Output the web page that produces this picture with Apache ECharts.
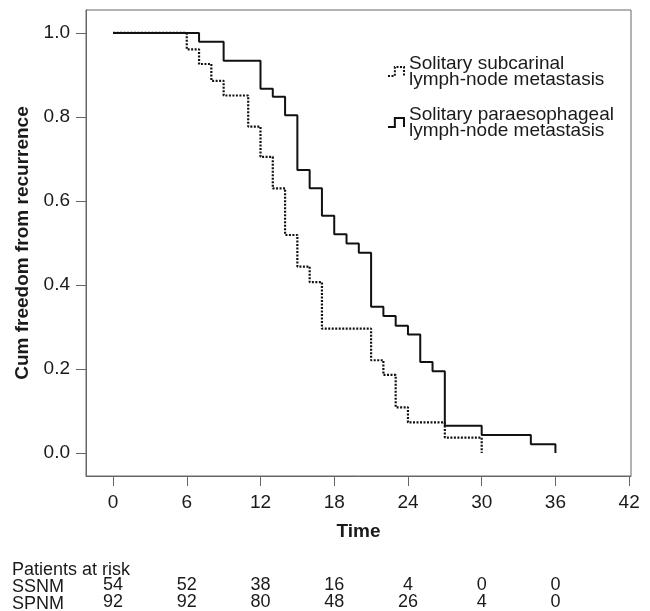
<!DOCTYPE html>
<html><head><meta charset="utf-8">
<script src="https://cdn.jsdelivr.net/npm/echarts@6/dist/echarts.min.js"></script>
<style>html,body{margin:0;padding:0;background:#fff}#c{width:650px;height:611px}</style>
</head><body><div id="c"></div>
<script>
// ---- data ----
const ssnmTimes = [0, 6, 7, 8, 9, 11, 12, 13, 14, 15, 16, 17, 21, 22, 23, 24, 27, 30];
const ssnmSurv  = [1.0, 0.961, 0.926, 0.886, 0.851, 0.777, 0.705, 0.63, 0.519, 0.444, 0.407, 0.296, 0.221, 0.186, 0.109, 0.073, 0.037, 0.0];
const spnmTimes = [0, 7, 9, 12, 13, 14, 15, 16, 17, 18, 19, 20, 21, 22, 23, 24, 25, 26, 27, 30, 34, 36];
const spnmSurv  = [1.0, 0.979, 0.934, 0.867, 0.848, 0.804, 0.674, 0.63, 0.565, 0.521, 0.499, 0.477, 0.348, 0.326, 0.303, 0.282, 0.217, 0.195, 0.065, 0.043, 0.021, 0.0];
const xTicks = [0, 6, 12, 18, 24, 30, 36, 42];
const yTicks = [0, 0.2, 0.4, 0.6, 0.8, 1.0];
const riskTimes = [0, 6, 12, 18, 24, 30, 36];
const ssnmRisk = [54, 52, 38, 16, 4, 0, 0];
const spnmRisk = [92, 92, 80, 48, 26, 4, 0];
const seriesNames = ['Solitary subcarinal\nlymph-node metastasis', 'Solitary paraesophageal\nlymph-node metastasis'];
const riskTitle = 'Patients at risk';
const groupNames = ['SSNM', 'SPNM'];

// ---- chart ----
const FONT = '"Liberation Sans", Arial, sans-serif';
const FS = 19;
const RFS = 18;
const chart = echarts.init(document.getElementById('c'), null, {renderer: 'canvas'});
const XMIN = -2.2, XMAX = 42.15, YMIN = -0.0545, YMAX = 1.0545;
const axisCol = '#666';
const txtCol = '#1a1a1a';

function riskAxis(values, margin) {
  return {
    type: 'value', min: XMIN, max: XMAX, position: 'bottom', gridIndex: 0,
    axisLine: {show: false, onZero: false}, axisTick: {show: false}, splitLine: {show: false},
    axisLabel: {
      customValues: riskTimes, margin: margin, fontSize: RFS, color: txtCol, fontFamily: FONT,
      formatter: v => { const i = riskTimes.indexOf(Math.round(v)); return i >= 0 ? String(values[i]) : ''; }
    }
  };
}

const option = {
  backgroundColor: '#fff',
  animation: false,
  grid: {left: 86, right: 19, top: 10, bottom: 133, show: true, borderColor: axisCol, borderWidth: 1, containLabel: false},
  legend: {
    orient: 'vertical', left: 387, top: 54, padding: 0, itemGap: 16,
    itemWidth: 16, itemHeight: 9, selectedMode: false, symbolKeepAspect: false,
    textStyle: {fontSize: FS, lineHeight: 16, color: txtCol, fontFamily: FONT},
    data: [
      {name: seriesNames[0], icon: 'path://M0,10 L6,10 L6,0 L14,0 L14,10',
       itemStyle: {color: 'rgba(0,0,0,0)', borderColor: '#111', borderWidth: 2, borderType: [2, 1.5]}},
      {name: seriesNames[1], icon: 'path://M0,10 L6,10 L6,0 L14,0 L14,10',
       itemStyle: {color: 'rgba(0,0,0,0)', borderColor: '#111', borderWidth: 2, borderType: 'solid'}}
    ]
  },
  xAxis: [
    {
      type: 'value', min: XMIN, max: XMAX, position: 'bottom',
      name: 'Time', nameLocation: 'middle', nameGap: 46,
      nameTextStyle: {fontSize: FS, fontWeight: 'bold', color: txtCol, fontFamily: FONT},
      axisLine: {show: true, onZero: false, lineStyle: {color: axisCol, width: 1}},
      axisTick: {show: true, customValues: xTicks, length: 10, inside: false, lineStyle: {color: axisCol}},
      axisLabel: {customValues: xTicks, margin: 17, fontSize: FS, color: txtCol, fontFamily: FONT},
      splitLine: {show: false}
    },
    riskAxis(ssnmRisk, 100),
    riskAxis(spnmRisk, 117)
  ],
  yAxis: {
    type: 'value', min: YMIN, max: YMAX,
    name: 'Cum freedom from recurrence', nameLocation: 'middle', nameGap: 46,
    nameTextStyle: {fontSize: FS, fontWeight: 'bold', color: txtCol, fontFamily: FONT},
    axisLine: {show: true, onZero: false, lineStyle: {color: axisCol, width: 1}},
    axisTick: {show: true, customValues: yTicks, length: 10, lineStyle: {color: axisCol}},
    axisLabel: {customValues: yTicks, margin: 16, fontSize: FS, color: txtCol, fontFamily: FONT,
      formatter: v => v.toFixed(1)},
    splitLine: {show: false}
  },
  series: [
    {
      name: seriesNames[0], type: 'line', step: 'end', xAxisIndex: 0, symbol: 'none',
      data: ssnmTimes.map((t, i) => [t, ssnmSurv[i]]),
      lineStyle: {color: '#111', width: 2.2, type: [2, 1.5]}, itemStyle: {color: '#111'}, z: 2
    },
    {
      name: seriesNames[1], type: 'line', step: 'end', xAxisIndex: 0, symbol: 'none',
      data: spnmTimes.map((t, i) => [t, spnmSurv[i]]),
      lineStyle: {color: '#111', width: 2}, itemStyle: {color: '#111'}, z: 3
    }
  ],
  graphic: [
    {type: 'text', left: 12, top: 561, style: {text: riskTitle, fontSize: RFS, fill: txtCol, fontFamily: FONT}},
    {type: 'text', left: 12, top: 578, style: {text: groupNames[0], fontSize: RFS, fill: txtCol, fontFamily: FONT}},
    {type: 'text', left: 12, top: 595, style: {text: groupNames[1], fontSize: RFS, fill: txtCol, fontFamily: FONT}}
  ]
};
chart.setOption(option);
</script>
</body></html>
